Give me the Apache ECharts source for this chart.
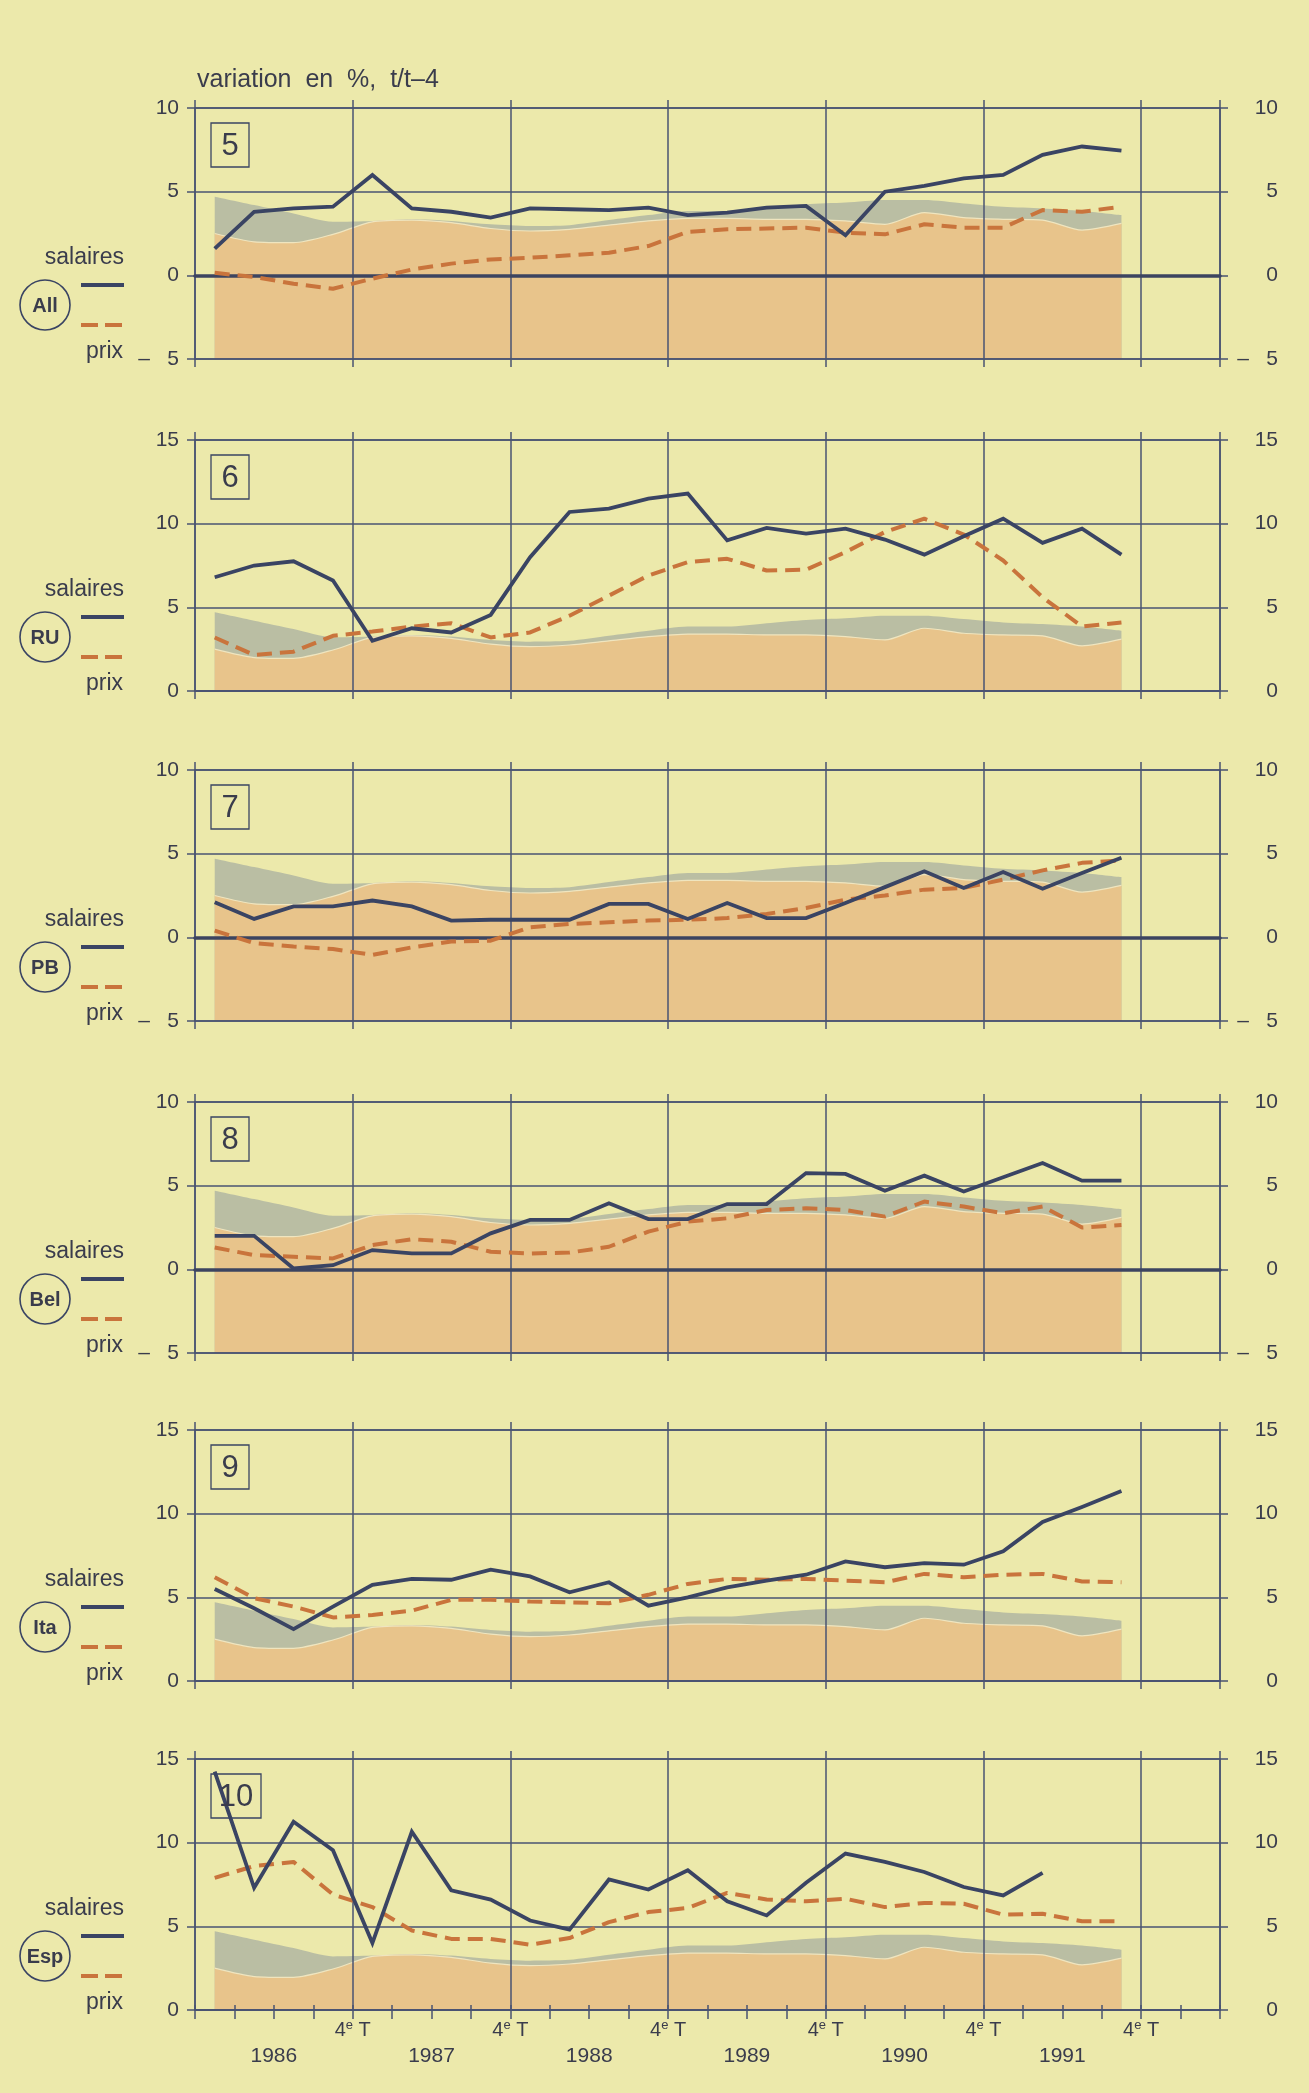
<!DOCTYPE html>
<html><head><meta charset="utf-8">
<script src="https://cdn.jsdelivr.net/npm/echarts@6/dist/echarts.min.js"></script>
<style>html,body{margin:0;padding:0;background:#ece9ab;} #c{width:1309px;height:2093px;}</style>
</head><body><div id="c"></div>
<script>
// ---- data -------------------------------------------------------------
const quarters = ['86T1','86T2','86T3','86T4','87T1','87T2','87T3','87T4','88T1','88T2','88T3','88T4',
                  '89T1','89T2','89T3','89T4','90T1','90T2','90T3','90T4','91T1','91T2','91T3','91T4'];
const years = ['1986','1987','1988','1989','1990','1991'];
const quarterTick = ['4', 'e', ' T'];
const countries = ['All','RU','PB','Bel','Ita','Esp'];
const panelNumbers = ['5','6','7','8','9','10'];
const yMins = [-5, 0, -5, -5, 0, 0];
const yMaxs = [10, 15, 10, 10, 15, 15];

const bandLower = [2.5, 2.0, 1.95, 2.45, 3.2, 3.3, 3.15, 2.8, 2.65, 2.75, 3.0, 3.25, 3.4, 3.4, 3.35, 3.35, 3.25, 3.05, 3.75, 3.45, 3.35, 3.3, 2.7, 3.1];
const bandUpper = [4.7, 4.2, 3.7, 3.2, 3.25, 3.35, 3.25, 3.05, 2.95, 3.0, 3.3, 3.6, 3.85, 3.85, 4.05, 4.25, 4.35, 4.5, 4.5, 4.3, 4.1, 4.0, 3.85, 3.6];

const salairesAll = [1.6, 3.8, 4.0, 4.1, 6.0, 4.0, 3.8, 3.45, 4.0, 3.95, 3.9, 4.05, 3.6, 3.75, 4.05, 4.15, 2.4, 5.0, 5.35, 5.8, 6.0, 7.2, 7.7, 7.45];
const prixAll     = [0.15, -0.1, -0.5, -0.8, -0.2, 0.35, 0.7, 0.95, 1.05, 1.2, 1.35, 1.75, 2.6, 2.75, 2.8, 2.85, 2.55, 2.45, 3.05, 2.85, 2.85, 3.9, 3.8, 4.1];
const salairesRU  = [6.8, 7.5, 7.75, 6.6, 3.0, 3.75, 3.5, 4.55, 8.0, 10.7, 10.9, 11.5, 11.8, 9.0, 9.75, 9.4, 9.7, 9.05, 8.15, 9.25, 10.3, 8.85, 9.7, 8.15];
const prixRU      = [3.2, 2.15, 2.35, 3.3, 3.55, 3.85, 4.05, 3.2, 3.5, 4.5, 5.7, 6.9, 7.7, 7.9, 7.2, 7.25, 8.3, 9.5, 10.3, 9.35, 7.8, 5.6, 3.85, 4.1];
const salairesPB  = [2.1, 1.1, 1.85, 1.85, 2.2, 1.85, 1.0, 1.05, 1.05, 1.05, 2.0, 2.0, 1.1, 2.05, 1.15, 1.15, 2.05, 3.0, 3.95, 2.95, 3.9, 2.9, 3.85, 4.75];
const prixPB      = [0.4, -0.35, -0.55, -0.7, -1.05, -0.6, -0.25, -0.2, 0.6, 0.8, 0.9, 1.0, 1.05, 1.15, 1.4, 1.75, 2.25, 2.5, 2.85, 2.95, 3.45, 4.0, 4.45, 4.6];
const salairesBel = [2.0, 2.0, 0.05, 0.25, 1.15, 0.95, 0.95, 2.15, 2.95, 2.95, 3.95, 3.0, 3.0, 3.9, 3.9, 5.75, 5.7, 4.7, 5.6, 4.65, 5.5, 6.35, 5.3, 5.3];
const prixBel     = [1.3, 0.85, 0.75, 0.65, 1.45, 1.8, 1.65, 1.05, 0.95, 1.0, 1.35, 2.25, 2.85, 3.05, 3.55, 3.65, 3.55, 3.15, 4.05, 3.75, 3.35, 3.75, 2.5, 2.65];
const salairesIta = [5.5, 4.35, 3.1, 4.45, 5.75, 6.1, 6.05, 6.65, 6.25, 5.3, 5.9, 4.5, 5.0, 5.6, 6.0, 6.35, 7.15, 6.8, 7.05, 6.95, 7.75, 9.5, 10.4, 11.35];
const prixIta     = [6.2, 4.95, 4.45, 3.8, 3.95, 4.2, 4.85, 4.85, 4.75, 4.7, 4.65, 5.15, 5.8, 6.1, 6.05, 6.1, 6.0, 5.9, 6.4, 6.2, 6.35, 6.4, 5.95, 5.9];
const salairesEsp = [14.25, 7.3, 11.25, 9.55, 4.0, 10.65, 7.15, 6.6, 5.35, 4.8, 7.8, 7.2, 8.35, 6.5, 5.65, 7.6, 9.35, 8.85, 8.25, 7.35, 6.85, 8.2, null, null];
const prixEsp     = [7.9, 8.6, 8.85, 6.9, 6.15, 4.75, 4.25, 4.25, 3.9, 4.3, 5.25, 5.85, 6.1, 7.0, 6.6, 6.5, 6.65, 6.15, 6.4, 6.35, 5.7, 5.75, 5.3, 5.3];

const salairesSeries = [salairesAll, salairesRU, salairesPB, salairesBel, salairesIta, salairesEsp];
const prixSeries = [prixAll, prixRU, prixPB, prixBel, prixIta, prixEsp];

// ---- style / layout ---------------------------------------------------
const FONT = "'Liberation Sans', Arial, Helvetica, sans-serif";
const INK = '#3a4463';
const GRID_C = '#4a5372';
const TEXT_C = '#3a3c4c';
const ORANGE_LINE = '#c9743c';
const AREA_ORANGE = '#e8c48b';
const AREA_GREY = '#babea3';
const tops = [108, 440, 770, 1102, 1430, 1759];
const H = 251, L = 195, W = 1025;
const NQ = 26; // quarters shown on axis

const chart = echarts.init(document.getElementById('c'), null, {renderer: 'canvas', width: 1309, height: 2093});
const pairs = arr => arr.map((v, i) => [i + 0.5, v]);
const gl = {color: GRID_C, width: 1.5};

const grids = [], xAxes = [], yAxes = [], series = [], graphics = [];

countries.forEach((c, p) => {
  const last = p === countries.length - 1;
  grids.push({left: L, top: tops[p], width: W, height: H});
  const yl = yAxes.length;
  const yFmt = v => v < 0 ? '\u2013   ' + (-v) : String(v);
  yAxes.push({
    gridIndex: p, type: 'value', min: yMins[p], max: yMaxs[p], interval: 5, position: 'left', z: 3,
    axisLine: {show: true, onZero: false, lineStyle: gl},
    axisTick: {show: true, length: 8, lineStyle: gl},
    axisLabel: {margin: 16, fontSize: 21, fontFamily: FONT, color: TEXT_C, formatter: yFmt},
    splitLine: {show: true, lineStyle: gl}
  });
  yAxes.push({
    gridIndex: p, type: 'value', min: yMins[p], max: yMaxs[p], interval: 5, position: 'right', z: 3,
    axisLine: {show: true, onZero: false, lineStyle: gl},
    axisTick: {show: true, length: 8, lineStyle: gl},
    axisLabel: {margin: 58, align: 'right', fontSize: 21, fontFamily: FONT, color: TEXT_C, formatter: yFmt},
    splitLine: {show: false}
  });
  const xa = xAxes.length;
  xAxes.push({
    gridIndex: p, type: 'value', min: 0, max: NQ, interval: 4, position: 'bottom', z: 3,
    axisLine: {show: true, onZero: false, lineStyle: {color: GRID_C, width: yMins[p] === 0 ? 2 : 1.5}},
    axisTick: {show: true, length: 8, lineStyle: gl},
    axisLabel: {show: false},
    splitLine: {show: true, lineStyle: gl}
  });
  xAxes.push({
    gridIndex: p, type: 'value', min: 0, max: NQ, interval: 4, position: 'top', z: 3,
    axisLine: {show: true, onZero: false, lineStyle: gl},
    axisTick: {show: true, length: 8, lineStyle: gl},
    axisLabel: {show: false}, splitLine: {show: false}
  });
  if (yMins[p] < 0) {
    xAxes.push({
      gridIndex: p, type: 'value', min: 0, max: NQ, position: 'bottom', z: 4,
      axisLine: {show: true, onZero: true, onZeroAxisIndex: yl, lineStyle: {color: '#3c4460', width: 3.5}},
      axisTick: {show: false}, axisLabel: {show: false}, splitLine: {show: false}
    });
  }
  if (last) {
    xAxes.push({
      gridIndex: p, type: 'value', min: 0, max: NQ, interval: 1, position: 'bottom', z: 3,
      axisLine: {show: false, onZero: false},
      axisTick: {show: true, length: 9, lineStyle: gl},
      axisLabel: {
        show: true, margin: 9, fontFamily: FONT, color: TEXT_C,
        formatter: v => {
          if (v <= 0 || v >= NQ) return '';
          if (v % 4 === 0) return '{q|' + quarterTick[0] + '}{s|' + quarterTick[1] + '}{q|' + quarterTick[2] + '}';
          if (v % 4 === 2) return '{y|' + years[(v - 2) / 4] + '}';
          return '';
        },
        rich: {
          q: {fontSize: 20, fontFamily: FONT, color: TEXT_C},
          s: {fontSize: 13, fontFamily: FONT, color: TEXT_C, padding: [0, 0, 9, 0]},
          y: {fontSize: 21, fontFamily: FONT, color: TEXT_C, padding: [27, 0, 0, 0]}
        }
      },
      splitLine: {show: false}
    });
    xAxes.push({
      gridIndex: p, type: 'value', min: 0, max: NQ, interval: 1, position: 'bottom', z: 3,
      axisLine: {show: false, onZero: false},
      axisTick: {show: true, inside: true, length: 5, lineStyle: gl},
      axisLabel: {show: false}, splitLine: {show: false}
    });
  }

  series.push({
    type: 'line', xAxisIndex: xa, yAxisIndex: yl, data: pairs(bandUpper), z: 1,
    symbol: 'none', smooth: 0.25, silent: true,
    lineStyle: {width: 0}, areaStyle: {origin: 'start', color: AREA_GREY, opacity: 1}
  });
  series.push({
    type: 'line', xAxisIndex: xa, yAxisIndex: yl, data: pairs(bandLower), z: 2,
    symbol: 'none', smooth: 0.25, silent: true,
    lineStyle: {width: 1.2, color: '#efe5bf'}, areaStyle: {origin: 'start', color: AREA_ORANGE, opacity: 1}
  });
  series.push({
    type: 'line', xAxisIndex: xa, yAxisIndex: yl, data: pairs(prixSeries[p]), z: 5,
    symbol: 'none', lineStyle: {width: 4, color: ORANGE_LINE, type: [15, 8], cap: 'butt'}
  });
  series.push({
    type: 'line', xAxisIndex: xa, yAxisIndex: yl, data: pairs(salairesSeries[p]), z: 6,
    symbol: 'none', connectNulls: false, lineStyle: {width: 3.8, color: INK, join: 'miter'}
  });

  // legend block and panel number
  const T = tops[p];
  const txt = (x, y, s, size, align) => ({
    type: 'text', x: x, y: y, z: 20,
    style: {text: s, fill: TEXT_C, fontSize: size, fontFamily: FONT,
      align: align, textAlign: align, verticalAlign: 'middle', textVerticalAlign: 'middle'}
  });
  graphics.push(txt(124, T + 150, 'salaires', 23, 'right'));
  graphics.push({type: 'line', z: 20, shape: {x1: 81, y1: T + 177, x2: 124, y2: T + 177}, style: {stroke: INK, lineWidth: 4}});
  graphics.push({type: 'circle', z: 20, shape: {cx: 45, cy: T + 197, r: 25}, style: {fill: 'none', stroke: INK, lineWidth: 1.6}});
  const ab = txt(45, T + 198, c, 20, 'center');
  ab.style.fontWeight = 'bold';
  graphics.push(ab);
  graphics.push({type: 'line', z: 20, shape: {x1: 81, y1: T + 217, x2: 124, y2: T + 217}, style: {stroke: ORANGE_LINE, lineWidth: 4, lineDash: [17, 7]}});
  graphics.push(txt(123, T + 244, 'prix', 23, 'right'));
  const bw = panelNumbers[p].length > 1 ? 50 : 38;
  graphics.push({type: 'rect', z: 20, shape: {x: 211, y: T + 15, width: bw, height: 44}, style: {fill: 'none', stroke: INK, lineWidth: 1.3}});
  graphics.push(txt(211 + bw / 2, T + 38, panelNumbers[p], 31, 'center'));
});

graphics.push({
  type: 'text', x: 197, y: 80, z: 20,
  style: {text: 'variation  en  %,  t/t\u20134', fill: TEXT_C, fontSize: 25, fontFamily: FONT,
    align: 'left', textAlign: 'left', verticalAlign: 'middle', textVerticalAlign: 'middle'}
});

chart.setOption({
  backgroundColor: '#ece9ab',
  animation: false,
  grid: grids, xAxis: xAxes, yAxis: yAxes, series: series, graphic: {elements: graphics}
});
</script>
</body></html>
